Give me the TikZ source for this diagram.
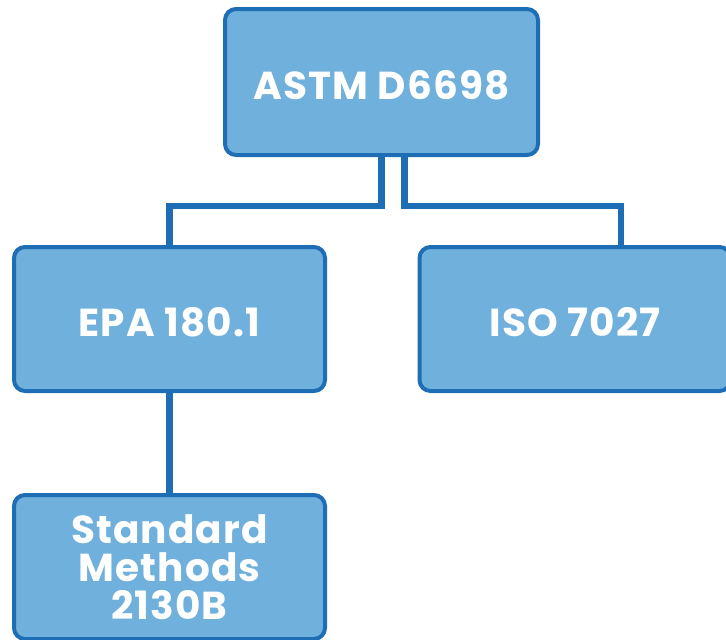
\documentclass[tikz,border=0pt]{standalone}
\usepackage{fontspec}
\setmainfont{Poppins}[LetterSpace=3]
\definecolor{edgeblue}{RGB}{30,110,182}
\definecolor{fillblue}{RGB}{112,176,220}
\begin{document}
\begin{tikzpicture}[x=1pt,y=-1pt,
  box/.style={draw=edgeblue, fill=fillblue, line width=4pt, rounded corners=11pt,
    minimum width=311pt, minimum height=144pt, inner sep=0pt, outer sep=0pt,
    text=white, font=\fontsize{39}{38}\selectfont\bfseries, align=center},
  oneline/.style={text height=35pt, text depth=0pt},
  conn/.style={draw=edgeblue, line width=6.5pt, line join=miter}]
\useasboundingbox (0,0) rectangle (726,640);
\node[box, oneline, minimum width=313pt, minimum height=146pt] (astm) at (381.5,82) {ASTM D6698};
\node[box, oneline] (epa) at (169.5,319) {EPA 180.1};
\node[box, oneline] (iso) at (575,319) {ISO 7027};
\node[box] (std) at (169.5,567) {Standard\\Methods\\2130B};
\coordinate (c1) at (381.5,0);
\coordinate (c2) at (404.5,0);
\coordinate (jl) at (169.5,206);
\coordinate (jr) at (621,206);
\draw[conn] (astm.south -| c1) |- (jl) -- (epa.north -| jl);
\draw[conn] (astm.south -| c2) |- (jr) -- (iso.north -| jr);
\draw[conn] (epa.south) -- (std.north);
\end{tikzpicture}
\end{document}
